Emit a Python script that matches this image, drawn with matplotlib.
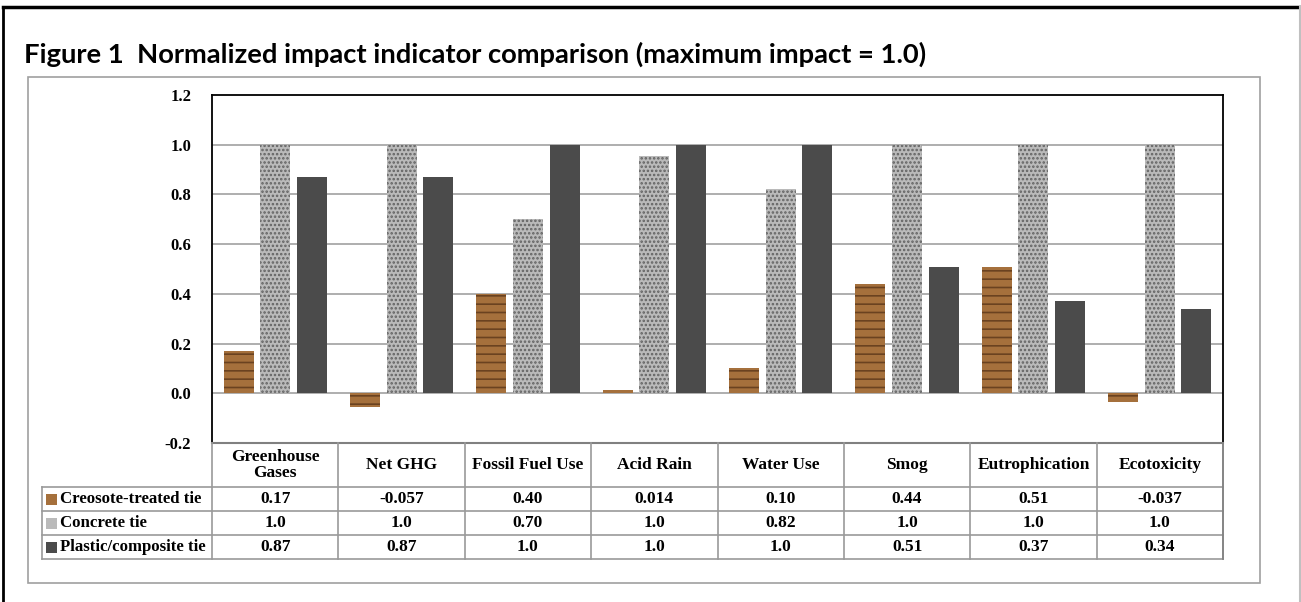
import numpy as np
import matplotlib
matplotlib.use("Agg")
import matplotlib.pyplot as plt
from matplotlib.patches import Rectangle
from matplotlib.lines import Line2D

# chart data
categories = ["Greenhouse\nGases", "Net GHG", "Fossil Fuel Use", "Acid Rain",
              "Water Use", "Smog", "Eutrophication", "Ecotoxicity"]
series_names = ["Creosote-treated tie", "Concrete tie", "Plastic/composite tie"]
creosote = [0.17, -0.057, 0.40, 0.014, 0.10, 0.44, 0.51, -0.037]
concrete = [1.0, 1.0, 0.70, 0.955, 0.82, 1.0, 1.0, 1.0]
plastic = [0.87, 0.87, 1.0, 1.0, 1.0, 0.51, 0.37, 0.34]
creosote_lbl = ["0.17", "-0.057", "0.40", "0.014", "0.10", "0.44", "0.51", "-0.037"]
concrete_lbl = ["1.0", "1.0", "0.70", "1.0", "0.82", "1.0", "1.0", "1.0"]
plastic_lbl = ["0.87", "0.87", "1.0", "1.0", "1.0", "0.51", "0.37", "0.34"]
yticks = [-0.2, 0.0, 0.2, 0.4, 0.6, 0.8, 1.0, 1.2]

W, H = 1301, 602
serif = "Liberation Serif"

# bar styles: (face, hatch, hatch colour)
styles = [("#a5703c", "--", "#6a4220"),
          ("#bababa", "....", "#626262"),
          ("#4b4b4b", None, None)]

fig = plt.figure(figsize=(W / 100, H / 100), dpi=100)
fig.patch.set_facecolor("white")

def fx(px):
    return px / W

def fy(py):
    return 1 - py / H

# outer frame and inner grey box
fig.add_artist(Line2D([fx(3), fx(3)], [fy(7), 0], color="black", lw=2))
fig.add_artist(Line2D([fx(3), fx(1300)], [fy(7), fy(7)], color="black", lw=2.5))
fig.add_artist(Line2D([fx(1299.5), fx(1299.5)], [fy(7), 0], color="#c0c0c0", lw=1.5))
fig.add_artist(Rectangle((fx(28), fy(583)), fx(1260 - 28), (583 - 77) / H,
                         fill=False, edgecolor="#a0a0a0", lw=1.2))

fig.text(fx(24), fy(63), "Figure 1  Normalized impact indicator comparison (maximum impact = 1.0)",
         fontsize=19.7, fontweight="bold", family="Lato", va="baseline", ha="left")

# main bar axes
ax = fig.add_axes([fx(212), fy(443), fx(1223 - 212), (443 - 95) / H])
x = np.arange(len(categories))
offsets = [-0.29, 0.0, 0.29]
bw = 0.237
plt.rcParams["hatch.linewidth"] = 1.2
for vals, off, (fc, hatch, hc) in zip([creosote, concrete, plastic], offsets, styles):
    ax.bar(x + off, vals, bw, color=fc, edgecolor="none", zorder=3)
    if hatch:
        ax.bar(x + off, vals, bw, fill=False, hatch=hatch, edgecolor=hc, lw=0, zorder=4)

ax.set_xlim(-0.5, len(categories) - 0.5)
ax.set_ylim(-0.2, 1.2)
ax.set_yticks(yticks)
ax.set_yticklabels([f"{t:.1f}" for t in yticks], fontsize=12, fontweight="bold", family=serif)
ax.tick_params(axis="y", length=0, pad=15)
ax.set_xticks([])
for t in yticks[1:-1]:
    ax.axhline(t, color="#a8a8a8", lw=1.3, zorder=1)
for s in ["left", "top", "right"]:
    ax.spines[s].set_linewidth(1.3)
    ax.spines[s].set_color("black")
ax.spines["bottom"].set_visible(False)

# data table under the axes
tax = fig.add_axes([fx(42), fy(559), fx(1223 - 42), (559 - 443) / H])
lab_w = (212 - 42) / ((1223 - 212) / len(categories))
tax.set_xlim(-0.5 - lab_w, len(categories) - 0.5)
tax.set_ylim(116, 0)
tax.axis("off")
rows = [0, 44, 68, 92, 116]
gc = "#9a9a9a"
# horizontal lines
tax.plot([-0.5, len(categories) - 0.5], [0, 0], color="#808080", lw=1.5, clip_on=False)
for r in rows[1:]:
    tax.plot([-0.5 - lab_w, len(categories) - 0.5], [r, r], color=gc, lw=1.2, clip_on=False)
# vertical lines
for c in range(len(categories) + 1):
    tax.plot([c - 0.5, c - 0.5], [0, 116], color=gc, lw=1.2, clip_on=False)
tax.plot([-0.5 - lab_w, -0.5 - lab_w], [44, 116], color=gc, lw=1.2, clip_on=False)
tax.plot([len(categories) - 0.5] * 2, [0, 116], color="#808080", lw=1.2, clip_on=False)

tfont = dict(fontsize=12.5, fontweight="bold", family=serif, ha="center", va="center")
for i, cat in enumerate(categories):
    tax.text(i, 22, cat, linespacing=0.95, **tfont)
sq = 11 * (len(categories) + lab_w) / (1223 - 42)
for j, lbls in enumerate([creosote_lbl, concrete_lbl, plastic_lbl]):
    yc = (rows[j + 1] + rows[j + 2]) / 2
    for i, s in enumerate(lbls):
        tax.text(i, yc, s, **tfont)
    fc, hatch, hc = styles[j]
    tax.add_patch(Rectangle((-0.5 - lab_w + 0.03, yc - 5.5), sq, 11, facecolor=fc,
                            edgecolor="none", clip_on=False))
    tax.text(-0.5 - lab_w + 0.145, yc, series_names[j], fontsize=12.1, fontweight="bold",
             family=serif, ha="left", va="center")

fig.savefig("out.png", dpi=100)
